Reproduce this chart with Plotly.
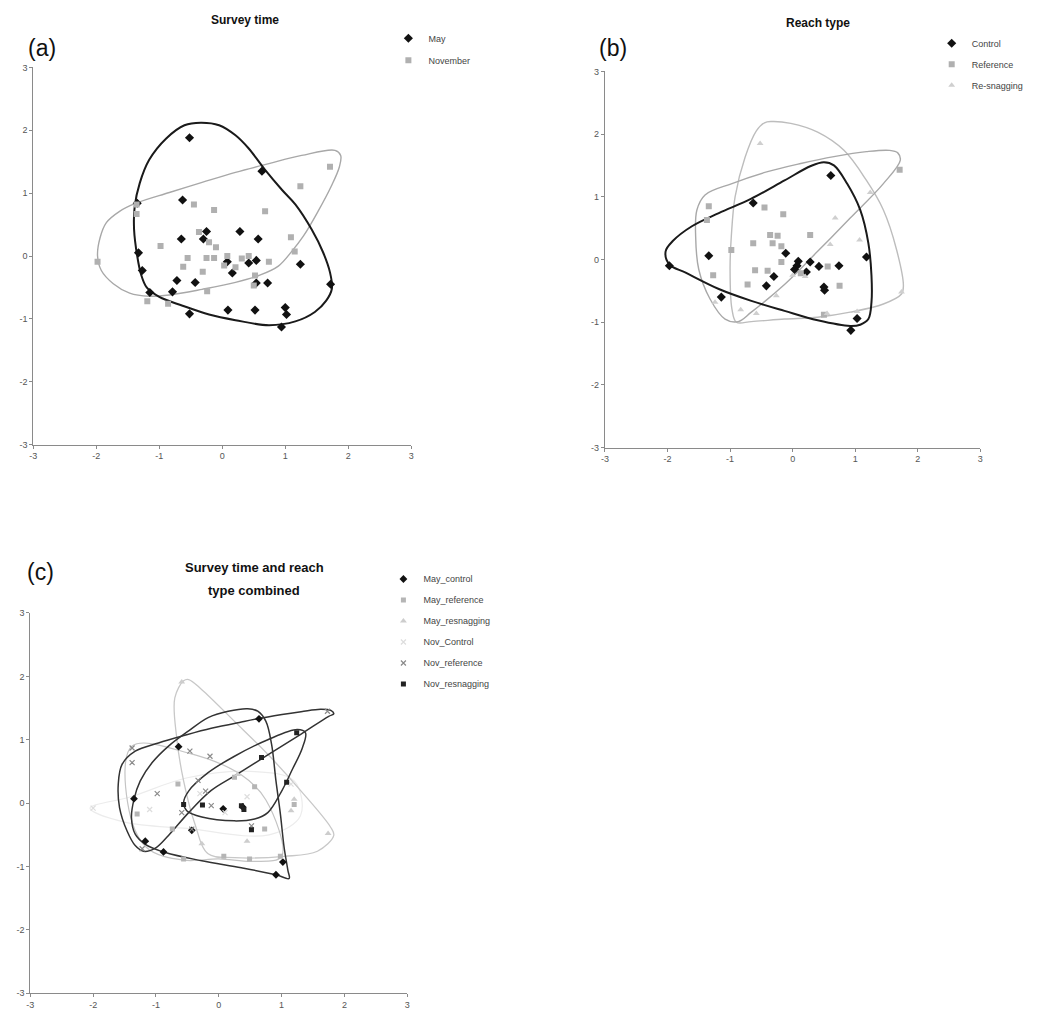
import plotly.graph_objects as go

# ---------------- Panel (a): Survey time ----------------
may_x = [-0.52, 0.63, -0.63, -0.25, 0.28, -0.65, -0.30, 0.57, -1.33, 0.08, 0.42, 0.54, 1.24, -1.27, 0.16,
         -0.72, -0.43, 0.54, 0.72, 1.72, -0.79, -1.15, -0.52, 0.09, 0.52, 1.00, 1.02, 0.94, -1.35]
may_y = [1.88, 1.35, 0.89, 0.39, 0.39, 0.27, 0.27, 0.27, 0.05, -0.09, -0.11, -0.07, -0.13, -0.23, -0.27,
         -0.39, -0.42, -0.43, -0.43, -0.45, -0.57, -0.58, -0.92, -0.86, -0.86, -0.82, -0.93, -1.13, 0.84]
nov_x = [1.71, 1.24, 0.68, -0.45, -0.13, -1.36, -0.37, -0.21, -0.10, 1.09, -0.98, 1.15, -0.55, -0.25, -0.13,
         0.08, 0.31, 0.42, 0.74, -0.62, 0.03, 0.21, -0.31, 0.52, 0.50, -1.98, -0.24, -1.19, -0.86, -1.36]
nov_y = [1.42, 1.11, 0.71, 0.82, 0.73, 0.67, 0.38, 0.22, 0.14, 0.30, 0.16, 0.07, -0.03, -0.03, -0.03,
         0.00, -0.04, 0.00, -0.09, -0.17, -0.15, -0.18, -0.25, -0.31, -0.47, -0.09, -0.56, -0.72, -0.76, 0.82]

hull_may_x = [-0.34, -0.05, 0.21, 0.42, 0.68, 0.95, 1.16, 1.42, 1.60, 1.71, 1.74, 1.65, 1.47, 1.16, 0.74,
              0.21, -0.21, -0.63, -1.00, -1.20, -1.29, -1.35, -1.40, -1.39, -1.31, -1.16, -0.89, -0.60]
hull_may_y = [2.12, 2.08, 1.92, 1.71, 1.37, 1.05, 0.82, 0.42, 0.06, -0.26, -0.52, -0.71, -0.89, -1.04, -1.10,
              -1.02, -0.93, -0.79, -0.65, -0.50, -0.29, 0.00, 0.42, 0.79, 1.16, 1.53, 1.87, 2.08]
hull_nov_x = [-1.98, -1.94, -1.84, -1.63, -1.37, -0.84, -0.32, 0.21, 0.74, 1.26, 1.79, 1.88, 1.86, 1.73, 1.52,
              1.29, 1.10, 0.89, 0.58, 0.21, -0.32, -0.84, -1.16, -1.47, -1.73, -1.92]
hull_nov_y = [0.00, 0.29, 0.53, 0.71, 0.84, 1.01, 1.17, 1.33, 1.47, 1.60, 1.68, 1.60, 1.42, 1.11, 0.71,
              0.32, 0.07, -0.16, -0.31, -0.42, -0.53, -0.62, -0.64, -0.59, -0.44, -0.23]

# ---------------- Panel (b): Reach type ----------------
ctrl_x = [0.61, -0.63, -1.34, -1.97, -0.11, 0.09, 0.07, 0.03, 0.28, 0.42, 0.22, 0.74, 1.18, -0.30, -0.42,
          0.50, 0.51, -1.14, 1.03, 0.93]
ctrl_y = [1.34, 0.90, 0.06, -0.10, 0.10, -0.03, -0.10, -0.16, -0.04, -0.11, -0.20, -0.10, 0.04, -0.27, -0.42,
          -0.44, -0.49, -0.60, -0.94, -1.13]
ref_x = [-1.34, -1.37, -0.45, -0.15, 0.28, -0.36, -0.24, -0.63, -0.32, -0.18, -0.98, -0.18, -0.40, -1.27,
         -0.72, 0.56, 0.75, 0.13, 1.71, 0.50, -0.60]
ref_y = [0.85, 0.63, 0.83, 0.72, 0.39, 0.39, 0.38, 0.26, 0.26, 0.21, 0.15, -0.04, -0.18, -0.25,
         -0.40, -0.11, -0.42, -0.22, 1.43, -0.88, -0.17]
res_x = [-0.52, 1.24, 0.68, 1.07, 0.60, 1.74, -0.83, -0.58, 0.55, 1.03, -1.24, 0.20, -0.26, 0.00]
res_y = [1.85, 1.07, 0.66, 0.31, 0.24, -0.52, -0.80, -0.86, -0.86, -0.83, -0.68, -0.27, -0.58, -0.25]

hull_ctrl_x = [-2.03, -1.92, -1.61, -1.18, -0.66, -0.13, 0.29, 0.50, 0.66, 0.87, 1.08, 1.21, 1.26, 1.26,
               1.21, 1.08, 0.92, 0.40, -0.13, -0.66, -1.18, -1.71, -1.97]
hull_ctrl_y = [0.13, 0.29, 0.53, 0.74, 0.97, 1.26, 1.49, 1.55, 1.50, 1.21, 0.79, 0.26, -0.26, -0.68,
               -0.95, -1.04, -1.06, -0.97, -0.82, -0.66, -0.47, -0.21, -0.08]
hull_ref_x = [1.68, 1.72, 1.45, 0.92, 0.40, -0.13, -0.66, -0.87, -1.08, -1.32, -1.50, -1.55, -1.53, -1.40,
              -0.97, -0.40, 0.13, 0.66, 1.18, 1.55]
hull_ref_y = [1.70, 1.58, 1.21, 0.66, 0.13, -0.40, -0.84, -0.99, -0.95, -0.63, -0.16, 0.37, 0.79, 1.03,
              1.21, 1.40, 1.53, 1.64, 1.72, 1.74]
hull_res_x = [-0.34, -0.03, 0.40, 0.82, 1.18, 1.45, 1.66, 1.77, 1.74, 1.45, 0.92, 0.40, -0.13, -0.66,
              -0.90, -0.97, -1.00, -0.98, -0.92, -0.76, -0.58, -0.45]
hull_res_y = [2.20, 2.17, 2.03, 1.74, 1.26, 0.79, 0.16, -0.42, -0.55, -0.71, -0.84, -0.92, -0.95, -0.99,
              -1.00, -0.79, -0.16, 0.37, 1.00, 1.63, 2.05, 2.18]

# ---------------- Panel (c): combined ----------------
mc_x = [0.64, -0.64, -1.35, -1.17, -0.88, 0.91, 1.02, 0.07, -0.43, 0.38]
mc_y = [1.33, 0.89, 0.07, -0.60, -0.77, -1.13, -0.93, -0.09, -0.43, -0.06]
mr_x = [-0.65, 0.25, 0.57, -1.30, -0.74, -0.56, 0.08, 0.49, 0.98, 0.73, 1.20]
mr_y = [0.30, 0.41, 0.26, -0.17, -0.41, -0.88, -0.84, -0.88, -0.84, -0.41, -0.02]
mres_x = [-0.59, 1.74, 1.15, -0.27, 0.45, 0.30, 1.20]
mres_y = [1.91, -0.48, -0.12, -0.64, -0.60, 0.45, 0.06]
nc_x = [-2.00, -1.10, 0.45, 1.15, 0.10, -0.30]
nc_y = [-0.08, -0.10, 0.10, 0.30, -0.15, 0.15]
nref_x = [1.73, -1.38, -1.38, -0.46, -0.14, -0.33, -0.21, -0.98, -0.59, -0.12, -1.22, -0.43, 0.52]
nref_y = [1.45, 0.87, 0.64, 0.82, 0.74, 0.36, 0.19, 0.15, -0.15, -0.04, -0.72, -0.41, -0.36]
nres_x = [1.24, 0.68, 1.08, -0.56, -0.26, 0.36, 0.40, 0.52]
nres_y = [1.11, 0.72, 0.33, -0.02, -0.03, -0.04, -0.10, -0.42]

hull_mc_x = [0.46, 0.15, -0.17, -0.48, -0.80, -1.06, -1.25, -1.35, -1.39, -1.33, -1.17, -0.85, -0.27, 0.36,
             0.91, 1.12, 1.10, 1.04, 0.98, 0.91, 0.84, 0.75, 0.62]
hull_mc_y = [1.49, 1.45, 1.35, 1.14, 0.90, 0.64, 0.35, 0.06, -0.23, -0.49, -0.65, -0.78, -0.91, -1.02,
             -1.13, -1.19, -1.06, -0.70, -0.17, 0.35, 0.93, 1.29, 1.45]
hull_nref_x = [1.79, 1.83, 1.75, 1.31, 0.78, 0.25, -0.12, -0.48, -0.80, -1.01, -1.20, -1.33, -1.46, -1.58,
               -1.60, -1.54, -1.33, -0.96, -0.54, -0.12, 0.36, 0.78, 1.31, 1.62]
hull_nref_y = [1.46, 1.41, 1.37, 1.09, 0.76, 0.43, 0.20, -0.15, -0.51, -0.71, -0.76, -0.67, -0.44, -0.07,
               0.30, 0.61, 0.82, 0.95, 1.07, 1.18, 1.28, 1.36, 1.44, 1.48]
hull_nres_x = [1.38, 1.25, 0.78, 0.25, -0.17, -0.48, -0.56, -0.51, -0.27, 0.25, 0.57, 0.78, 0.99, 1.17, 1.33]
hull_nres_y = [1.11, 1.16, 1.00, 0.74, 0.48, 0.19, 0.01, -0.12, -0.22, -0.28, -0.25, -0.15, 0.17, 0.53, 0.87]
hull_mres_x = [-0.56, -0.70, -0.67, -0.56, -0.38, -0.17, 0.25, 1.04, 1.57, 1.83, 1.78, 1.31, 0.78, 0.25,
               -0.27, -0.48]
hull_mres_y = [1.93, 1.66, 1.03, 0.35, -0.33, -0.80, -0.86, -0.84, -0.76, -0.51, -0.38, 0.19, 0.77, 1.29,
               1.79, 1.95]
hull_mr_x = [-1.38, -0.45, 0.35, 0.75, 1.00, 0.55, 0.00, -0.56, -1.15, -1.45]
hull_mr_y = [0.90, 0.78, 0.45, 0.05, -0.84, -0.92, -0.88, -0.90, -0.70, 0.00]
hull_nc_x = [-2.05, -1.40, -0.50, 0.50, 1.20, 1.30, 0.80, -0.50, -1.50]
hull_nc_y = [-0.08, 0.10, 0.40, 0.50, 0.35, -0.20, -0.50, -0.40, -0.30]

tick_vals = [-3, -2, -1, 0, 1, 2, 3]
tick_text = ["-3", "-2", "-1", "0", "1", "2", "3"]

FONT = "Liberation Sans, Arial, sans-serif"


def closed(xs, ys):
    return list(xs) + [xs[0]], list(ys) + [ys[0]]


fig = go.Figure()


def hull(xs, ys, color, width, ax):
    cx, cy = closed(xs, ys)
    fig.add_trace(go.Scatter(x=cx, y=cy, mode="lines", line=dict(color=color, width=width, shape="spline",
                                                                  smoothing=1.0),
                             showlegend=False, hoverinfo="skip", xaxis="x" + ax, yaxis="y" + ax))


def pts(xs, ys, name, symbol, color, size, ax, legend, group, lw=0):
    fig.add_trace(go.Scatter(x=xs, y=ys, mode="markers", name=name,
                             marker=dict(symbol=symbol, color=color, size=size,
                                         line=dict(width=lw, color=color)),
                             xaxis="x" + ax, yaxis="y" + ax, legend=legend, legendgroup=group))


# panel a
hull(hull_nov_x, hull_nov_y, "#a8a8a8", 1.4, "")
hull(hull_may_x, hull_may_y, "#1a1a1a", 2.0, "")
pts(may_x, may_y, "May", "diamond", "#111111", 7, "", "legend", "a1")
pts(nov_x, nov_y, "November", "square", "#b0b0b0", 6, "", "legend", "a2")

# panel b
hull(hull_res_x, hull_res_y, "#bdbdbd", 1.4, "2")
hull(hull_ref_x, hull_ref_y, "#a8a8a8", 1.4, "2")
hull(hull_ctrl_x, hull_ctrl_y, "#1a1a1a", 2.0, "2")
pts(ctrl_x, ctrl_y, "Control", "diamond", "#111111", 7, "2", "legend2", "b1")
pts(ref_x, ref_y, "Reference", "square", "#b0b0b0", 6, "2", "legend2", "b2")
pts(res_x, res_y, "Re-snagging", "triangle-up", "#cfcfcf", 6, "2", "legend2", "b3")

# panel c
hull(hull_nc_x, hull_nc_y, "#ececec", 1.2, "3")
hull(hull_mr_x, hull_mr_y, "#c4c4c4", 1.2, "3")
hull(hull_mres_x, hull_mres_y, "#c8c8c8", 1.3, "3")
hull(hull_nref_x, hull_nref_y, "#333333", 1.5, "3")
hull(hull_nres_x, hull_nres_y, "#333333", 1.5, "3")
hull(hull_mc_x, hull_mc_y, "#333333", 1.5, "3")
pts(mc_x, mc_y, "May_control", "diamond", "#111111", 6, "3", "legend3", "c1")
pts(mr_x, mr_y, "May_reference", "square", "#b5b5b5", 5, "3", "legend3", "c2")
pts(mres_x, mres_y, "May_resnagging", "triangle-up", "#cdcdcd", 6, "3", "legend3", "c3")
pts(nc_x, nc_y, "Nov_Control", "x-thin", "#dddddd", 5, "3", "legend3", "c4", lw=1.2)
pts(nref_x, nref_y, "Nov_reference", "x-thin", "#8a8a8a", 5, "3", "legend3", "c5", lw=1.2)
pts(nres_x, nres_y, "Nov_resnagging", "square", "#222222", 5, "3", "legend3", "c6")

W, H = 1037, 1023


def axis(dom, anchor):
    return dict(domain=dom, anchor=anchor, range=[-3, 3], tickmode="array", tickvals=tick_vals,
                ticktext=tick_text, showgrid=False, zeroline=False,
                showline=True, linecolor="#8a8a8a", linewidth=1, ticks="outside", ticklen=3,
                tickcolor="#8a8a8a", tickfont=dict(family=FONT, size=9, color="#555555"), fixedrange=True)


fig.update_layout(
    width=W, height=H, margin=dict(l=0, r=0, t=0, b=0),
    paper_bgcolor="white", plot_bgcolor="white",
    xaxis=axis([29.5 / W, 410 / W], "y"),
    yaxis=axis([1 - 444 / H, 1 - 63 / H], "x"),
    xaxis2=axis([605 / W, 983 / W], "y2"),
    yaxis2=axis([1 - 447 / H, 1 - 67 / H], "x2"),
    xaxis3=axis([26.5 / W, 406 / W], "y3"),
    yaxis3=axis([1 - 998 / H, 1 - 614 / H], "x3"),
    legend=dict(x=387 / W, y=1 - 19 / H, xanchor="left", yanchor="top", bgcolor="rgba(0,0,0,0)",
                font=dict(family=FONT, size=9, color="#444444"), itemwidth=30, tracegroupgap=3,
                traceorder="grouped"),
    legend2=dict(x=934 / W, y=1 - 24 / H, xanchor="left", yanchor="top", bgcolor="rgba(0,0,0,0)",
                 font=dict(family=FONT, size=9, color="#444444"), itemwidth=30, tracegroupgap=2,
                 traceorder="grouped"),
    legend3=dict(x=382 / W, y=1 - 565 / H, xanchor="left", yanchor="top", bgcolor="rgba(0,0,0,0)",
                 font=dict(family=FONT, size=9, color="#444444"), itemwidth=30, tracegroupgap=2,
                 traceorder="grouped"),
)

ann = [
    dict(text="<b>Survey time</b>", x=243 / W, y=1 - 15 / H, size=12),
    dict(text="<b>Reach type</b>", x=820 / W, y=1 - 18 / H, size=12),
    dict(text="<b>Survey time and reach</b>", x=252 / W, y=1 - 568 / H, size=13),
    dict(text="<b>type combined</b>", x=252 / W, y=1 - 591 / H, size=13),
    dict(text="(a)", x=38 / W, y=1 - 43 / H, size=23),
    dict(text="(b)", x=613 / W, y=1 - 43 / H, size=23),
    dict(text="(c)", x=37 / W, y=1 - 573 / H, size=23),
]
for a in ann:
    fig.add_annotation(text=a["text"], x=a["x"], y=a["y"], xref="paper", yref="paper", showarrow=False,
                       xanchor="center", yanchor="middle",
                       font=dict(family=FONT, size=a["size"], color="#111111"))

fig.write_html("out.html")
